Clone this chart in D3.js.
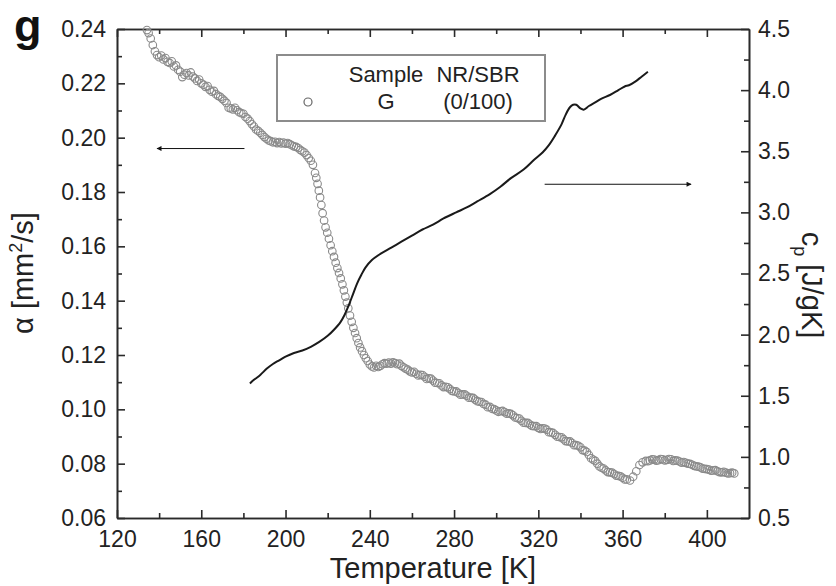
<!DOCTYPE html>
<html>
<head>
<meta charset="utf-8">
<script src="https://cdn.jsdelivr.net/npm/d3@7"></script>
<style>
  body { margin: 0; background: #fff; }
  svg { display: block; font-family: "Liberation Sans", Arial, Helvetica, sans-serif; }
</style>
</head>
<body>
<svg id="chart" width="836" height="586"></svg>
<script>
// Thermal diffusivity of sample G (open circles, left axis)
const alphaTemps = [
  134.2, 135, 136, 137, 138, 139, 140, 141, 142, 143, 144, 145, 146, 147, 148, 149,
  150, 151, 152, 153, 154, 155, 156, 157, 158, 159, 160, 161, 162, 163, 164, 165,
  166, 167, 168, 169, 170, 171, 172, 173, 174, 175, 176, 177, 178, 179, 180, 181,
  182, 183, 184, 185, 186, 187, 188, 189, 190, 191, 192, 193, 194, 195, 196, 197,
  198, 199, 200, 201, 202, 203, 204, 205, 206, 207, 208, 209, 210, 211, 212, 213,
  214, 214.6, 215.2, 215.8, 216.4, 217.0, 217.6, 218.3, 219.0, 219.8, 220.6, 221.4,
  222.2, 223.0, 223.8, 224.6, 225.4, 226.2, 227.0, 227.7, 228.4, 229.1, 229.8, 230.6,
  231.4, 232.2, 233.0, 233.8, 234.6, 235.4, 236.3, 237.2, 238.1, 239.0,
  240, 241, 242, 243, 244, 245, 246, 247, 248, 249, 250, 251, 252, 253, 254, 255,
  256, 257, 258, 259, 260, 261, 262, 263, 264, 265, 266, 267, 268, 269, 270, 271,
  272, 273, 274, 275, 276, 277, 278, 279, 280, 281, 282, 283, 284, 285, 286, 287,
  288, 289, 290, 291, 292, 293, 294, 295, 296, 297, 298, 299, 300, 301, 302, 303,
  304, 305, 306, 307, 308, 309, 310, 311, 312, 313, 314, 315, 316, 317, 318, 319,
  320, 321, 322, 323, 324, 325, 326, 327, 328, 329, 330, 331, 332, 333, 334, 335,
  336, 337, 338, 339, 340, 341, 342, 343, 344, 345, 346, 347, 348, 349, 350, 351,
  352, 353, 354, 355, 356, 357, 358, 359, 360, 361, 362, 363.5, 365, 366.5, 368, 369.5,
  371, 372, 373, 374, 375, 376, 377, 378, 379, 380, 381, 382, 383, 384, 385, 386,
  387, 388, 389, 390, 391, 392, 393, 394, 395, 396, 397, 398, 399, 400, 401, 402,
  403, 404, 405, 406, 407, 408, 409, 410, 411, 412, 413
];
const alphaValues = [
  0.2396, 0.2385, 0.2365, 0.2341, 0.2318, 0.2304, 0.2296, 0.2302, 0.2288, 0.2293, 0.2279, 0.2275, 0.2281, 0.2262, 0.2266, 0.2250,
  0.2243, 0.2223, 0.2232, 0.2238, 0.2229, 0.2240, 0.2225, 0.2218, 0.2209, 0.2214, 0.2200, 0.2195, 0.2187, 0.2190, 0.2176, 0.2169,
  0.2172, 0.2160, 0.2154, 0.2150, 0.2143, 0.2136, 0.2128, 0.2110, 0.2108, 0.2104, 0.2110, 0.2101, 0.2094, 0.2090, 0.2088, 0.2076,
  0.2070, 0.2061, 0.2050, 0.2041, 0.2030, 0.2025, 0.2018, 0.2010, 0.2002, 0.1996, 0.1990, 0.1987, 0.1983, 0.1985, 0.1980, 0.1984,
  0.1979, 0.1982, 0.1978, 0.1980, 0.1976, 0.1972, 0.1968, 0.1966, 0.1962, 0.1955, 0.1950, 0.1945, 0.1936, 0.1925, 0.1915, 0.1900,
  0.1870, 0.1852, 0.1830, 0.1805, 0.1780, 0.1752, 0.1722, 0.1695, 0.1670, 0.1650, 0.1628, 0.1604,
  0.1582, 0.1561, 0.1540, 0.1520, 0.1502, 0.1482, 0.1460, 0.1438, 0.1415, 0.1393, 0.1372, 0.1345,
  0.1322, 0.1300, 0.1281, 0.1262, 0.1244, 0.1228, 0.1214, 0.1200, 0.1188, 0.1178,
  0.1165, 0.1158, 0.1154, 0.1160, 0.1156, 0.1160, 0.1166, 0.1170, 0.1168, 0.1172, 0.1168, 0.1173, 0.1170, 0.1166, 0.1168, 0.1160,
  0.1155, 0.1150, 0.1146, 0.1140, 0.1136, 0.1138, 0.1131, 0.1125, 0.1127, 0.1126, 0.1120, 0.1112, 0.1114, 0.1113, 0.1106, 0.1098,
  0.1097, 0.1096, 0.1088, 0.1082, 0.1083, 0.1081, 0.1075, 0.1068, 0.1066, 0.1066, 0.1060, 0.1054, 0.1055, 0.1055, 0.1050, 0.1043,
  0.1043, 0.1042, 0.1036, 0.1030, 0.1028, 0.1027, 0.1020, 0.1017, 0.1008, 0.1009, 0.1002, 0.1001, 0.0996, 0.0991, 0.0993, 0.0994,
  0.0990, 0.0984, 0.0985, 0.0983, 0.0978, 0.0970, 0.0968, 0.0966, 0.0958, 0.0951, 0.0950, 0.0950, 0.0944, 0.0939, 0.0938, 0.0938,
  0.0932, 0.0928, 0.0930, 0.0929, 0.0925, 0.0916, 0.0915, 0.0913, 0.0906, 0.0899, 0.0898, 0.0897, 0.0890, 0.0883, 0.0882, 0.0882,
  0.0876, 0.0868, 0.0868, 0.0866, 0.0860, 0.0850, 0.0848, 0.0843, 0.0832, 0.0820, 0.0815, 0.0810, 0.0800, 0.0790, 0.0785, 0.0782,
  0.0775, 0.0769, 0.0768, 0.0767, 0.0762, 0.0756, 0.0755, 0.0753, 0.0748, 0.0742, 0.0742, 0.0738, 0.0752, 0.0772, 0.0795, 0.0805,
  0.0810, 0.0809, 0.0812, 0.0816, 0.0815, 0.0811, 0.0813, 0.0817, 0.0816, 0.0812, 0.0814, 0.0817, 0.0816, 0.0810, 0.0812, 0.0811,
  0.0808, 0.0804, 0.0806, 0.0803, 0.0800, 0.0799, 0.0796, 0.0792, 0.0790, 0.0789, 0.0786, 0.0782, 0.0781, 0.0780, 0.0778, 0.0774,
  0.0775, 0.0776, 0.0772, 0.0769, 0.0768, 0.0770, 0.0767, 0.0764, 0.0765, 0.0767, 0.0764
];

// Specific heat capacity (solid line, right axis)
const cpTemps = [
  183.1, 185, 188, 191, 194, 197, 200, 204, 208, 212, 216, 220, 223, 226, 228, 230,
  232, 234, 236, 238, 241, 245, 250, 255, 260, 265, 270, 275, 281, 286, 291, 297,
  302, 307, 313, 318, 322, 325, 328, 331, 333, 335, 336.5, 338, 340, 341.5, 344, 347,
  350, 354, 358, 361, 363, 366, 369, 372
];
const cpValues = [
  1.60, 1.63, 1.67, 1.72, 1.76, 1.79, 1.82, 1.85, 1.87, 1.90, 1.94, 1.99, 2.04, 2.10, 2.16, 2.24,
  2.33, 2.42, 2.49, 2.55, 2.61, 2.66, 2.71, 2.76, 2.81, 2.86, 2.90, 2.95, 3.00, 3.04, 3.09, 3.15,
  3.21, 3.28, 3.35, 3.43, 3.49, 3.55, 3.63, 3.72, 3.80, 3.86, 3.88, 3.88, 3.85, 3.84, 3.87, 3.90,
  3.93, 3.96, 4.00, 4.03, 4.04, 4.07, 4.11, 4.15
];

// Axis ticks
const tempTicks = [120, 160, 200, 240, 280, 320, 360, 400];
const tempMinorTicks = [140, 180, 220, 260, 300, 340, 380];
const alphaTicks = [0.06, 0.08, 0.10, 0.12, 0.14, 0.16, 0.18, 0.20, 0.22, 0.24];
const alphaMinorTicks = [0.07, 0.09, 0.11, 0.13, 0.15, 0.17, 0.19, 0.21, 0.23];
const cpTicks = [0.5, 1.0, 1.5, 2.0, 2.5, 3.0, 3.5, 4.0, 4.5];
const cpMinorTicks = [0.75, 1.25, 1.75, 2.25, 2.75, 3.25, 3.75, 4.25];

// Legend entries
const legendHeader = ["Sample", "NR/SBR"];
const legendRow = ["G", "(0/100)"];

const svg = d3.select("#chart");
const W = 836, H = 586;
const m = { left: 117, right: 87, top: 29, bottom: 68 };
const iw = W - m.left - m.right, ih = H - m.top - m.bottom;

const x = d3.scaleLinear().domain([120, 420]).range([m.left, m.left + iw]);
const yA = d3.scaleLinear().domain([0.06, 0.24]).range([m.top + ih, m.top]);
const yC = d3.scaleLinear().domain([0.5, 4.5]).range([m.top + ih, m.top]);

const axisColor = "#2a2a2a";
const labelColor = "#222";
const major = 8, minor = 5;
const tickFont = 23;

function styleAxis(g) {
  g.selectAll(".domain").attr("stroke", axisColor).attr("stroke-width", 1.6);
  g.selectAll(".tick line").attr("stroke", axisColor).attr("stroke-width", 1.6);
  g.selectAll(".tick text").attr("fill", labelColor)
    .style("font-size", tickFont + "px").style("font-family", "'Liberation Sans', Arial, sans-serif");
}

// Bottom axis
const gx = svg.append("g").attr("transform", `translate(0,${m.top + ih})`)
  .call(d3.axisBottom(x).tickValues(tempTicks).tickFormat(d3.format("d"))
    .tickSizeInner(-major).tickSizeOuter(0).tickPadding(13));
styleAxis(gx);
const gxm = svg.append("g").attr("transform", `translate(0,${m.top + ih})`)
  .call(d3.axisBottom(x).tickValues(tempMinorTicks).tickFormat("")
    .tickSizeInner(-minor).tickSizeOuter(0));
styleAxis(gxm);

// Top axis (ticks only)
const gt = svg.append("g").attr("transform", `translate(0,${m.top})`)
  .call(d3.axisTop(x).tickValues(tempTicks).tickFormat("")
    .tickSizeInner(-major).tickSizeOuter(0));
styleAxis(gt);
const gtm = svg.append("g").attr("transform", `translate(0,${m.top})`)
  .call(d3.axisTop(x).tickValues(tempMinorTicks).tickFormat("")
    .tickSizeInner(-minor).tickSizeOuter(0));
styleAxis(gtm);

// Left axis: diffusivity
const gl = svg.append("g").attr("transform", `translate(${m.left},0)`)
  .call(d3.axisLeft(yA).tickValues(alphaTicks).tickFormat(d3.format(".2f"))
    .tickSizeInner(-major).tickSizeOuter(0).tickPadding(11));
styleAxis(gl);
const glm = svg.append("g").attr("transform", `translate(${m.left},0)`)
  .call(d3.axisLeft(yA).tickValues(alphaMinorTicks).tickFormat("")
    .tickSizeInner(-minor).tickSizeOuter(0));
styleAxis(glm);

// Right axis: heat capacity
const gr = svg.append("g").attr("transform", `translate(${m.left + iw},0)`)
  .call(d3.axisRight(yC).tickValues(cpTicks).tickFormat(d3.format(".1f"))
    .tickSizeInner(-major).tickSizeOuter(0).tickPadding(9));
styleAxis(gr);
const grm = svg.append("g").attr("transform", `translate(${m.left + iw},0)`)
  .call(d3.axisRight(yC).tickValues(cpMinorTicks).tickFormat("")
    .tickSizeInner(-minor).tickSizeOuter(0));
styleAxis(grm);

// Diffusivity points
const alphaData = alphaTemps.map((t, i) => ({ t, v: alphaValues[i] }));
svg.append("g").selectAll("circle").data(alphaData).join("circle")
  .attr("cx", d => x(d.t)).attr("cy", d => yA(d.v)).attr("r", 3.8)
  .attr("fill", "none").attr("stroke", "#8a8a8a").attr("stroke-width", 1.1);

// Heat capacity curve
const cpData = cpTemps.map((t, i) => ({ t, v: cpValues[i] }));
svg.append("path").datum(cpData)
  .attr("fill", "none").attr("stroke", "#1a1a1a").attr("stroke-width", 2)
  .attr("stroke-linejoin", "round")
  .attr("d", d3.line().x(d => x(d.t)).y(d => yC(d.v)).curve(d3.curveCatmullRom.alpha(0.5)));

// Legend
const lg = svg.append("g");
lg.append("rect").attr("x", 277).attr("y", 55).attr("width", 268).attr("height", 66)
  .attr("fill", "#fff").attr("stroke", "#8c8c8c").attr("stroke-width", 2);
lg.append("circle").attr("cx", 308).attr("cy", 102).attr("r", 4)
  .attr("fill", "none").attr("stroke", "#666").attr("stroke-width", 1.2);
const colX = [386, 478];
legendHeader.forEach((s, i) => lg.append("text").attr("x", colX[i]).attr("y", 82)
  .attr("text-anchor", "middle").attr("fill", labelColor).style("font-size", "22px").text(s));
legendRow.forEach((s, i) => lg.append("text").attr("x", colX[i]).attr("y", 109)
  .attr("text-anchor", "middle").attr("fill", labelColor).style("font-size", "22px").text(s));

// Arrows pointing to each curve's axis
const defs = svg.append("defs");
defs.append("marker").attr("id", "head").attr("viewBox", "0 0 10 10")
  .attr("refX", 9).attr("refY", 5).attr("markerWidth", 7).attr("markerHeight", 5)
  .attr("orient", "auto").attr("markerUnits", "userSpaceOnUse")
  .append("path").attr("d", "M0,0 L10,5 L0,10 Z").attr("fill", "#111");
svg.append("line").attr("x1", x(180.5)).attr("x2", x(139)).attr("y1", yA(0.1960)).attr("y2", yA(0.1960))
  .attr("stroke", "#111").attr("stroke-width", 1).attr("marker-end", "url(#head)");
svg.append("line").attr("x1", x(323)).attr("x2", x(392.5)).attr("y1", yC(3.23)).attr("y2", yC(3.23))
  .attr("stroke", "#111").attr("stroke-width", 1).attr("marker-end", "url(#head)");

// Panel letter
svg.append("text").attr("x", 14).attr("y", 41).attr("fill", "#111")
  .style("font-size", "45px").style("font-weight", "bold").text("g");

// Axis titles
svg.append("text").attr("x", m.left + iw / 2).attr("y", 578).attr("text-anchor", "middle")
  .attr("fill", labelColor).style("font-size", "29px").text("Temperature [K]");

const lt = svg.append("text").attr("transform", `translate(33,273) rotate(-90)`)
  .attr("text-anchor", "middle").attr("fill", labelColor).style("font-size", "29px");
lt.append("tspan").text("α [mm");
lt.append("tspan").attr("dy", -11).style("font-size", "18px").text("2");
lt.append("tspan").attr("dy", 11).text("/s]");

const rt = svg.append("text").attr("transform", `translate(802,285) rotate(90)`)
  .attr("text-anchor", "middle").attr("fill", labelColor).style("font-size", "29px");
rt.append("tspan").text("c");
rt.append("tspan").attr("dy", 8).style("font-size", "18px").text("p");
rt.append("tspan").attr("dy", -8).text(" [J/gK]");
</script>
</body>
</html>
